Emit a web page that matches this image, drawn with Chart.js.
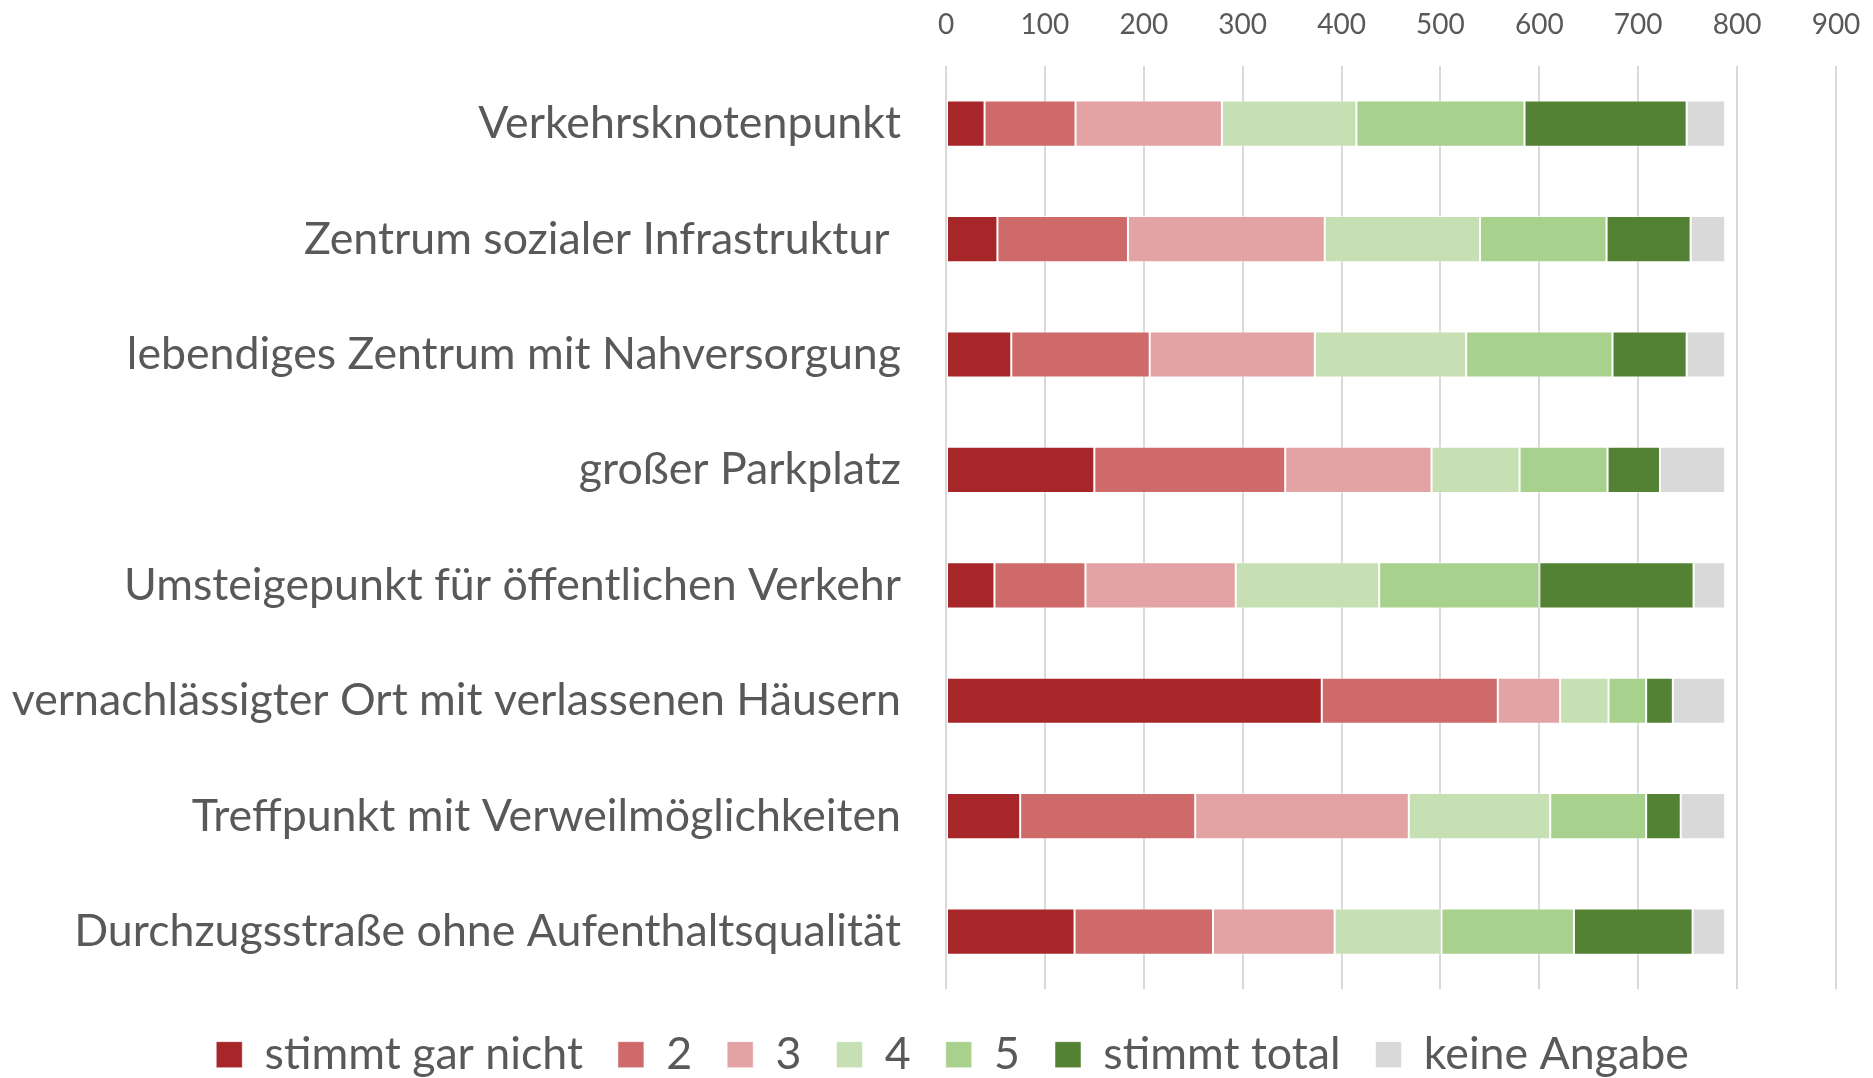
<!DOCTYPE html>
<html lang="de">
  <head>
    <meta charset="UTF-8" />
    <title>Bewertung</title>
    <script src="https://cdn.jsdelivr.net/npm/chart.js"></script>
    <style>
      html, body { margin: 0; padding: 0; background: #ffffff; overflow: hidden; }
      #wrap { width: 1873px; height: 1087px; }
    </style>
  </head>
  <body>
    <div id="wrap"><canvas id="chart"></canvas></div>

    <script>
      // categories, top to bottom
      const categories = [
        "Verkehrsknotenpunkt",
        "Zentrum sozialer Infrastruktur ",
        "lebendiges Zentrum mit Nahversorgung",
        "großer Parkplatz",
        "Umsteigepunkt für öffentlichen Verkehr",
        "vernachlässigter Ort mit verlassenen Häusern",
        "Treffpunkt mit Verweilmöglichkeiten",
        "Durchzugsstraße ohne Aufenthaltsqualität",
      ];

      const seriesNames = ["stimmt gar nicht", "2", "3", "4", "5", "stimmt total", "keine Angabe"];
      const seriesColors = ["#a6262a", "#ce6a69", "#e3a2a3", "#c6e0b4", "#a9d18e", "#548235", "#d9d9d9"];

      // values per series (same order as categories)
      const gar_nicht = [39, 52, 66, 150, 49, 380, 75, 130];
      const wert2 = [92, 132, 140, 193, 92, 178, 177, 140];
      const wert3 = [148, 199, 167, 148, 152, 63, 216, 123];
      const wert4 = [136, 157, 153, 89, 145, 49, 143, 108];
      const wert5 = [170, 128, 148, 89, 162, 38, 97, 134];
      const total = [164, 85, 75, 53, 156, 27, 35, 120];
      const keine = [39, 35, 39, 66, 32, 53, 45, 33];

      const xTicks = [0, 100, 200, 300, 400, 500, 600, 700, 800, 900];

      const allSeries = [gar_nicht, wert2, wert3, wert4, wert5, total, keine];
      const textColor = "#595959";
      const fontFamily = "Lato, 'Open Sans', sans-serif";

      // nudge the legend a bit to the right, like the original
      const legendShift = {
        id: "legendShift",
        afterLayout(chart) {
          chart.legend.left = 32;
        },
      };

      const spacer = (pos, size) => ({
        type: "linear",
        position: pos,
        afterFit: (scale) => {
          if (pos === "right") scale.width = size;
          else scale.height = size;
        },
        grid: { display: false, drawTicks: false },
        border: { display: false },
        ticks: { display: false },
      });

      const ctx = document.getElementById("chart").getContext("2d");
      new Chart(ctx, {
        type: "bar",
        data: {
          labels: categories,
          datasets: allSeries.map((vals, i) => ({
            label: seriesNames[i],
            data: vals,
            backgroundColor: seriesColors[i],
            borderColor: "rgba(255,255,255,0.5)",
            borderWidth: 1,
            borderSkipped: false,
            barPercentage: 0.8,
            categoryPercentage: 0.5,
          })),
        },
        plugins: [legendShift],
        options: {
          indexAxis: "y",
          responsive: true,
          maintainAspectRatio: false,
          animation: false,
          layout: { padding: 0 },
          scales: {
            x: {
              position: "top",
              stacked: true,
              min: 0,
              max: 900,
              afterBuildTicks: (scale) => {
                scale.ticks = xTicks.map((v) => ({ value: v }));
              },
              afterFit: (scale) => {
                scale.height = 66;
                scale.paddingLeft = 0;
                scale.paddingRight = 0;
              },
              grid: { color: "#d9d9d9", lineWidth: 2, drawTicks: false },
              border: { display: false },
              ticks: {
                color: textColor,
                padding: 24,
                maxRotation: 0,
                font: { family: fontFamily, size: 28 },
              },
            },
            y: {
              stacked: true,
              afterFit: (scale) => {
                scale.width = 946;
                scale.paddingTop = 0;
                scale.paddingBottom = 0;
              },
              grid: { display: false, drawTicks: false },
              border: { display: false },
              ticks: {
                color: textColor,
                padding: 45,
                font: { family: fontFamily, size: 44.7 },
              },
            },
            y2: spacer("right", 37),
            x2: spacer("bottom", 8),
          },
          plugins: {
            legend: {
              position: "bottom",
              labels: {
                color: textColor,
                boxWidth: 26,
                boxHeight: 26,
                padding: 35,
                font: { family: fontFamily, size: 44.7 },
              },
            },
            tooltip: { enabled: false },
          },
        },
      });
    </script>
  </body>
</html>
